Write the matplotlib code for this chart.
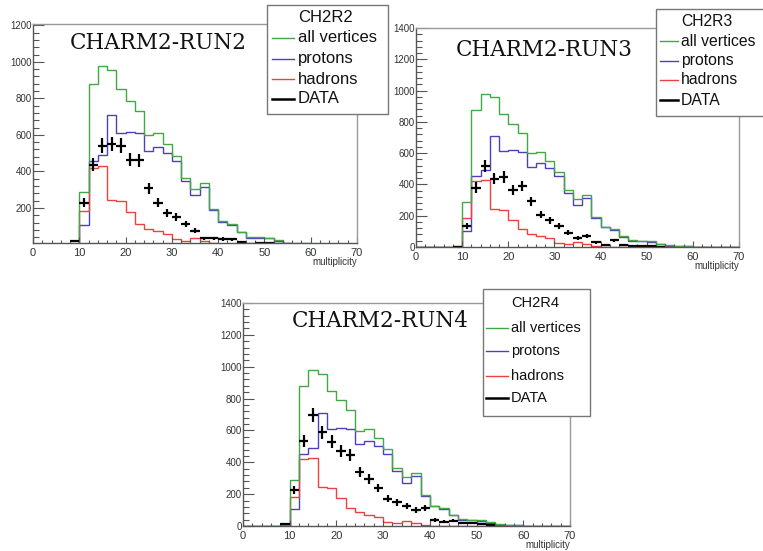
import numpy as np
import matplotlib
matplotlib.use("Agg")
import matplotlib.pyplot as plt
from matplotlib.ticker import MultipleLocator
from matplotlib.patches import Rectangle
from matplotlib.lines import Line2D

plt.rcParams["font.family"] = ["Liberation Sans", "DejaVu Sans"]

# multiplicity histograms, 2-unit bins from 0 to 70
bin_edges = list(range(0, 72, 2))
all_vertices = [0, 0, 0, 0, 5, 288, 878, 978, 957, 850, 788, 728, 598, 608, 552, 482, 362, 305,
                335, 192, 128, 112, 70, 42, 40, 38, 22, 10, 6, 6, 2, 1, 1, 1, 0]
protons = [0, 0, 0, 0, 3, 105, 455, 490, 710, 612, 617, 608, 512, 535, 502, 455, 345, 270,
           315, 188, 125, 108, 66, 38, 36, 34, 19, 8, 5, 5, 2, 1, 1, 1, 0]
hadrons = [0, 0, 0, 0, 0, 183, 420, 430, 242, 237, 175, 114, 85, 72, 56, 28, 18, 34,
           20, 6, 3, 2, 2, 1, 1, 1, 1, 0, 0, 0, 0, 0, 0, 0, 0]

# measured points, one per bin centre
data_centers = list(range(9, 55, 2))
data_run2 = [19, 229, 437, 541, 550, 541, 465, 461, 307, 229, 171, 149, 112, 76, 33, 33, 30, 28,
             11, 5, 6, 6, 4]
data_run3 = [3, 134, 380, 518, 437, 448, 362, 390, 292, 207, 171, 132, 90, 58, 70, 30, 11, 43,
             15, 6, 5, 4, 3]
data_run4 = [10, 226, 535, 698, 587, 530, 472, 447, 342, 296, 237, 170, 149, 128, 101, 111, 38, 27,
             34, 17, 17, 10, 8]

GREEN = "#43a843"
BLUE = "#4d3fc2"
RED = "#ef4040"

W, H = 763, 551
fig = plt.figure(figsize=(W / 100, H / 100), dpi=100)


def fx(x):
    return x / W


def fy(y):
    return 1 - y / H


def make_axes(left, top, right, bottom):
    return fig.add_axes([fx(left), fy(bottom), (right - left) / W, (bottom - top) / H])


def draw_panel(ax, box, data, ylim, title, title_xy):
    left, top, right, bottom = box
    ax.stairs(protons, bin_edges, color=BLUE, lw=1.0)
    ax.stairs(hadrons, bin_edges, color=RED, lw=1.0)
    ax.stairs(all_vertices, bin_edges, color=GREEN, lw=1.0)
    vals = np.array(data, dtype=float)
    ax.errorbar(data_centers, vals, xerr=1, yerr=1.7 * np.sqrt(vals), fmt="none",
                ecolor="black", elinewidth=1.6, capsize=0)

    ax.set_xlim(0, 70)
    ax.set_ylim(*ylim)
    ax.xaxis.set_major_locator(MultipleLocator(10))
    ax.xaxis.set_minor_locator(MultipleLocator(2))
    ax.yaxis.set_major_locator(MultipleLocator(200))
    ax.yaxis.set_minor_locator(MultipleLocator(40))
    ax.tick_params(axis="both", which="both", direction="in", colors="#555555",
                   labelcolor="#333333", width=0.8)
    ax.tick_params(axis="y", which="major", length=8, labelsize=7, pad=1)
    ax.tick_params(axis="y", which="minor", length=4)
    ax.tick_params(axis="x", which="major", length=4, labelsize=8, pad=3.4)
    ax.tick_params(axis="x", which="minor", length=2.5)
    for side in ("left", "bottom"):
        ax.spines[side].set_color("#555555")
        ax.spines[side].set_linewidth(1.0)
    for side in ("top", "right"):
        ax.spines[side].set_color("#999999")
        ax.spines[side].set_linewidth(1.0)
    fig.text(fx(right), fy(bottom + 19), "multiplicity", ha="right", va="center",
             fontsize=7, color="#333333")
    fig.text(fx(title_xy[0]), fy(title_xy[1]), title, ha="center", va="center",
             fontsize=15.5, family="DejaVu Serif", color="#111111")


def draw_legend(box, name, rows_y, line_x, text_x, size):
    left, top, right, bottom = box
    fig.patches.append(Rectangle((fx(left), fy(bottom)), (right - left) / W, (bottom - top) / H,
                                 transform=fig.transFigure, facecolor="white",
                                 edgecolor="#777777", lw=1.0, zorder=5))
    fig.text(fx(text_x), fy(rows_y[0]), name, ha="left", va="center", fontsize=size,
             color="#111111", zorder=6)
    entries = [("all vertices", GREEN, 1.0), ("protons", BLUE, 1.0),
               ("hadrons", RED, 1.0), ("DATA", "black", 1.8)]
    for (label, color, lw), y in zip(entries, rows_y[1:]):
        fig.lines.append(Line2D([fx(line_x[0]), fx(line_x[1])], [fy(y), fy(y)],
                                transform=fig.transFigure, color=color, lw=lw, zorder=6))
        fig.text(fx(text_x), fy(y), label, ha="left", va="center", fontsize=size,
                 color="#111111", zorder=6)


box1 = (33, 24, 357, 243)
box2 = (416, 28, 739, 247)
box3 = (243, 303, 570, 526)
ax1 = make_axes(*box1)
draw_panel(ax1, box1, data_run2, (8, 1207), "CHARM2-RUN2", (158, 43))
ax2 = make_axes(*box2)
draw_panel(ax2, box2, data_run3, (0, 1400), "CHARM2-RUN3", (544, 50))
ax3 = make_axes(*box3)
draw_panel(ax3, box3, data_run4, (0, 1400), "CHARM2-RUN4", (380, 321))

draw_legend((267, 5, 388, 114), "CH2R2", [18, 38, 59, 79, 99], (272, 294), 298, 12)
draw_legend((656, 9, 775, 116), "CH2R3", [22, 41, 61, 80, 100], (660, 678), 681, 11.3)
draw_legend((483, 289, 590, 416), "CH2R4", [303, 328, 351, 376, 398], (486, 508), 511, 10.5)

fig.savefig("out.png", dpi=100)
